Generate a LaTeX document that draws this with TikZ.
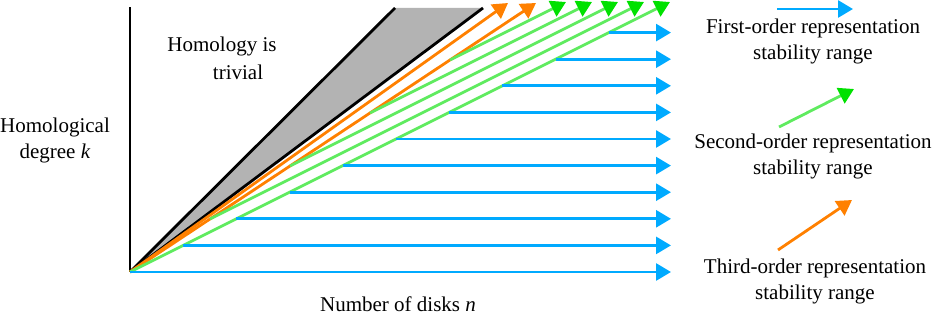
\documentclass[tikz,border=0pt]{standalone}
\usepackage{fontspec}
\setmainfont{Liberation Serif}
\usetikzlibrary{arrows.meta}
\definecolor{cblue}{RGB}{0,170,255}
\definecolor{cgreen}{RGB}{95,235,95}
\definecolor{cgreentip}{RGB}{0,225,0}
\definecolor{corange}{RGB}{255,128,0}
\definecolor{cgray}{RGB}{179,179,179}
\begin{document}
\begin{tikzpicture}[x=1pt,y=-1pt,
  lbl/.style={font=\fontsize{21}{26}\selectfont, align=center, inner sep=0pt},
  axisline/.style={line width=2.8pt, black},
  bound/.style={line width=2.8pt, black},
  first/.style={line width=2.8pt, cblue, -{Triangle[length=15pt,width=17pt]}},
  second/.style={line width=2.8pt, cgreen, -{Triangle[length=15pt,width=17pt,color=cgreentip]}},
  third/.style={line width=2.8pt, corange, -{Triangle[length=15pt,width=17pt]}},
]
\useasboundingbox (0,0) rectangle (935,315);
% key points
\coordinate (O) at (130,272);
\coordinate (Atop) at (130,7);
\coordinate (BL) at (395,8);
\coordinate (BR) at (483,8);
\coordinate (OU) at (508,3);
\coordinate (OL) at (536,3);
% trivial region
\fill[cgray] (O) -- (BL) -- (BR) -- cycle;
\draw[bound] (O) -- (BL);
\draw[bound] (O) -- (BR);
\draw[axisline] (O) -- (Atop);
% third order
\draw[third] (O) -- (OU);
\draw[third] (O) -- (OL);
% second order
\coordinate (g0s) at (130,272); \coordinate (g0e) at (670,2);
\coordinate (g1s) at (210,219); \coordinate (g1e) at (644,2);
\coordinate (g2s) at (290,166); \coordinate (g2e) at (618,2);
\coordinate (g3s) at (370,113); \coordinate (g3e) at (592,2);
\coordinate (g4s) at (450,60);  \coordinate (g4e) at (566,2);
\foreach \j in {0,...,4} {\draw[second] (g\j s) -- (g\j e);}
% first order
\foreach \i in {0,...,9} {
  \coordinate (b\i s) at ({130+53.2*\i},{272-26.6*\i});
  \coordinate (b\i e) at (671,{272-26.6*\i});
  \draw[first] (b\i s) -- (b\i e);
}
% labels
\node[lbl] (triv1) at (222,46) {Homology is};
\node[lbl] (triv2) at (238,72) {trivial};
\node[lbl] (ylab) at (55,140) {Homological\\degree \textit{k}};
\node[lbl] (xlab) at (398,304) {Number of disks \textit{n}};
% legend
\coordinate (l1s) at (777,9);   \coordinate (l1e) at (853,9);
\coordinate (l2s) at (779,127); \coordinate (l2e) at (854,89);
\coordinate (l3s) at (778,250); \coordinate (l3e) at (852,200);
\draw[first] (l1s) -- (l1e);
\draw[second] (l2s) -- (l2e);
\draw[third] (l3s) -- (l3e);
\node[lbl] (t1) at (813,41) {First-order representation\\stability range};
\node[lbl] (t2) at (813,156) {Second-order representation\\stability range};
\node[lbl] (t3) at (815,281) {Third-order representation\\stability range};
\end{tikzpicture}
\end{document}
